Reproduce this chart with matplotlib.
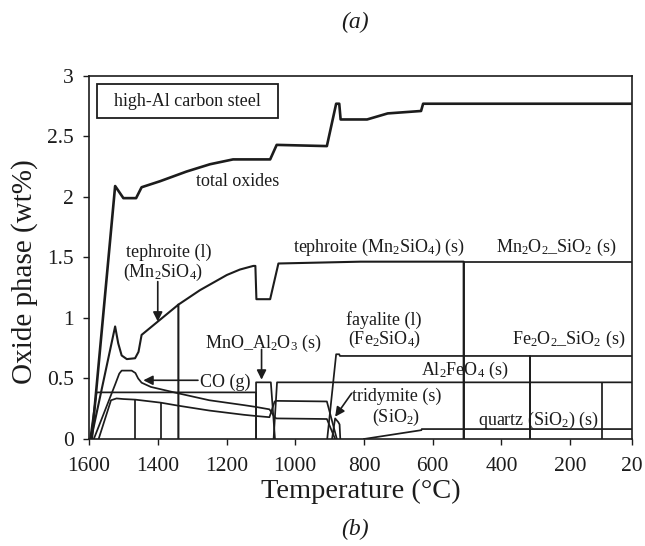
import matplotlib
matplotlib.use("Agg")
import matplotlib.pyplot as plt
from matplotlib.patches import Rectangle

plt.rcParams['font.family'] = ['Liberation Serif', 'DejaVu Serif']
plt.rcParams['mathtext.fontset'] = 'custom'
plt.rcParams['mathtext.rm'] = 'Liberation Serif'
plt.rcParams['mathtext.it'] = 'Liberation Serif:italic'

# ---------------- data (temperature in deg C, amount in wt%) ----------------
T_total = [1592, 1524, 1500, 1463, 1447, 1393, 1316, 1248, 1181, 1073, 1054, 908, 881, 872, 868, 791, 731, 634, 628, 20]
y_total = [0, 2.09, 1.99, 1.99, 2.08, 2.13, 2.21, 2.27, 2.31, 2.31, 2.43, 2.42, 2.77, 2.77, 2.64, 2.64, 2.69, 2.71, 2.77, 2.77]

T_teph_l = [1594, 1524, 1515, 1505, 1490, 1466, 1456, 1447, 1340, 1340]
y_teph_l = [0, 0.93, 0.79, 0.69, 0.66, 0.667, 0.72, 0.86, 1.11, 0]

T_teph_s = [1340, 1277, 1199, 1161, 1122, 1116, 1113, 1073, 1049, 810, 510, 510]
y_teph_s = [1.11, 1.23, 1.355, 1.40, 1.43, 1.43, 1.155, 1.155, 1.45, 1.465, 1.465, 0]

T_co = [1586, 1524, 1512, 1505, 1476, 1465, 1457, 1447, 1420, 1340, 1250, 1150, 1115, 1075, 1060, 1055, 908, 884]
y_co = [0, 0.45, 0.54, 0.565, 0.565, 0.545, 0.50, 0.465, 0.43, 0.377, 0.32, 0.28, 0.265, 0.245, 0.18, 0.17, 0.165, 0]

T_low = [1572, 1536, 1520, 1500, 1465, 1391, 1340, 1250, 1150, 1115, 1075, 1060, 1055, 908, 879]
y_low = [0, 0.32, 0.335, 0.33, 0.325, 0.30, 0.275, 0.235, 0.20, 0.19, 0.18, 0.31, 0.315, 0.31, 0]

T_flat = [1597, 1578, 1114, 1114]
y_flat = [0, 0.385, 0.385, 0]

T_mnoal = [1114, 1114, 1071, 1059]
y_mnoal = [0, 0.468, 0.468, 0]

T_spinel = [1063, 1053, 20]
y_spinel = [0, 0.468, 0.468]

T_drop = [1465, 1391, 108]
y_drop = [0.325, 0.30, 0.468]

T_fay = [907, 881, 872, 870, 317, 317]
y_fay = [0, 0.70, 0.70, 0.686, 0.686, 0]

T_fe2o2 = [317, 317, 20]
y_fe2o2 = [0, 0.686, 0.686]

T_mn2o2 = [510, 510, 20]
y_mn2o2 = [0, 1.465, 1.465]

T_trid = [893, 884, 875, 871, 869]
y_trid = [0, 0.17, 0.14, 0.12, 0]

T_quartz = [800, 633, 632, 20]
y_quartz = [0, 0.073, 0.082, 0.082]

x_ticks = [1600, 1400, 1200, 1000, 800, 600, 400, 200, 20]
x_ticklabels = ['1600', '1400', '1200', '1000', '800', '600', '400', '200', '20']
y_ticks = [0, 0.5, 1, 1.5, 2, 2.5, 3]
y_ticklabels = ['0', '0.5', '1', '1.5', '2', '2.5', '3']

# ---------------- figure ----------------
fig = plt.figure(figsize=(6.45, 5.46), dpi=100)
ax = fig.add_axes([0.138, 0.196, 0.842, 0.665])

c = '#1c1c1c'
ax.plot(T_total, y_total, color=c, lw=1.9)
ax.plot(T_teph_l, y_teph_l, color=c, lw=1.5)
ax.plot(T_teph_s, y_teph_s, color=c, lw=1.5)
for T, y in [(T_co, y_co), (T_low, y_low), (T_flat, y_flat), (T_mnoal, y_mnoal),
             (T_spinel, y_spinel), (T_fay, y_fay), (T_fe2o2, y_fe2o2),
             (T_mn2o2, y_mn2o2), (T_trid, y_trid), (T_quartz, y_quartz)]:
    ax.plot(T, y, color=c, lw=1.25)
ax.vlines(T_drop, 0, y_drop, color=c, lw=1.25)

ax.set_xlim(1600, 20)
ax.set_ylim(0, 3)
ax.set_xticks(x_ticks)
ax.set_xticklabels(x_ticklabels)
ax.set_yticks(y_ticks)
ax.set_yticklabels(y_ticklabels)
ax.tick_params(direction='out', length=4, width=1, labelsize=15.5, colors=c)
ax.tick_params(axis='x', pad=9)
ax.tick_params(axis='y', pad=7)
for s in ax.spines.values():
    s.set_linewidth(1.2)
    s.set_color(c)

ax.set_xlabel('Temperature (°C)', fontsize=20.5, color=c, labelpad=2)
ax.set_ylabel('Oxide phase (wt%)', fontsize=21, color=c)
ax.yaxis.set_label_coords(-0.094, 0.46)

fig.text(0.55, 0.958, '(a)', fontsize=17, style='italic', ha='center', va='center', color=c)
fig.text(0.55, 0.03, '(b)', fontsize=17, style='italic', ha='center', va='center', color=c)

fs = 13
ax.add_patch(Rectangle((1577, 2.653), 1050 - 1577, 2.934 - 2.653, fill=False, ec=c, lw=1.3))
ax.text(1314, 2.79, 'high-Al carbon steel', fontsize=fs, ha='center', va='center', color=c)
ax.text(1169, 2.13, 'total oxides', fontsize=fs, ha='center', va='center', color=c)
ax.text(1367, 1.545, 'tephroite (l)', fontsize=fs, ha='center', va='center', color=c)
ax.text(1386, 1.38, r'(Mn$_2$SiO$_4$)', fontsize=fs, ha='center', va='center', color=c)
ax.text(756, 1.58, r'tephroite (Mn$_2$SiO$_4$) (s)', fontsize=fs, ha='center', va='center', color=c)
ax.text(241, 1.58, r'Mn$_2$O$_2$_SiO$_2$ (s)', fontsize=fs, ha='center', va='center', color=c)
ax.text(1094, 0.79, r'MnO_Al$_2$O$_3$ (s)', fontsize=fs, ha='center', va='center', color=c)
ax.text(742, 0.98, 'fayalite (l)', fontsize=fs, ha='center', va='center', color=c)
ax.text(739, 0.82, r'(Fe$_2$SiO$_4$)', fontsize=fs, ha='center', va='center', color=c)
ax.text(203, 0.82, r'Fe$_2$O$_2$_SiO$_2$ (s)', fontsize=fs, ha='center', va='center', color=c)
ax.text(506, 0.57, r'Al$_2$FeO$_4$ (s)', fontsize=fs, ha='center', va='center', color=c)
ax.text(1204, 0.47, 'CO (g)', fontsize=fs, ha='center', va='center', color=c)
ax.text(704, 0.35, 'tridymite (s)', fontsize=fs, ha='center', va='center', color=c)
ax.text(707, 0.18, r'(SiO$_2$)', fontsize=fs, ha='center', va='center', color=c)
ax.text(291, 0.157, r'quartz (SiO$_2$) (s)', fontsize=fs, ha='center', va='center', color=c)

arrow = dict(arrowstyle='-|>', color=c, lw=1.2, mutation_scale=14, shrinkA=0, shrinkB=0)
ax.annotate('', xy=(1400, 0.97), xytext=(1400, 1.30), arrowprops=arrow)
ax.annotate('', xy=(1098, 0.49), xytext=(1098, 0.74), arrowprops=arrow)
ax.annotate('', xy=(1442, 0.485), xytext=(1283, 0.485), arrowprops=arrow)
ax.annotate('', xy=(884, 0.184), xytext=(836, 0.377), arrowprops=arrow)

fig.savefig('out.png', dpi=100)
